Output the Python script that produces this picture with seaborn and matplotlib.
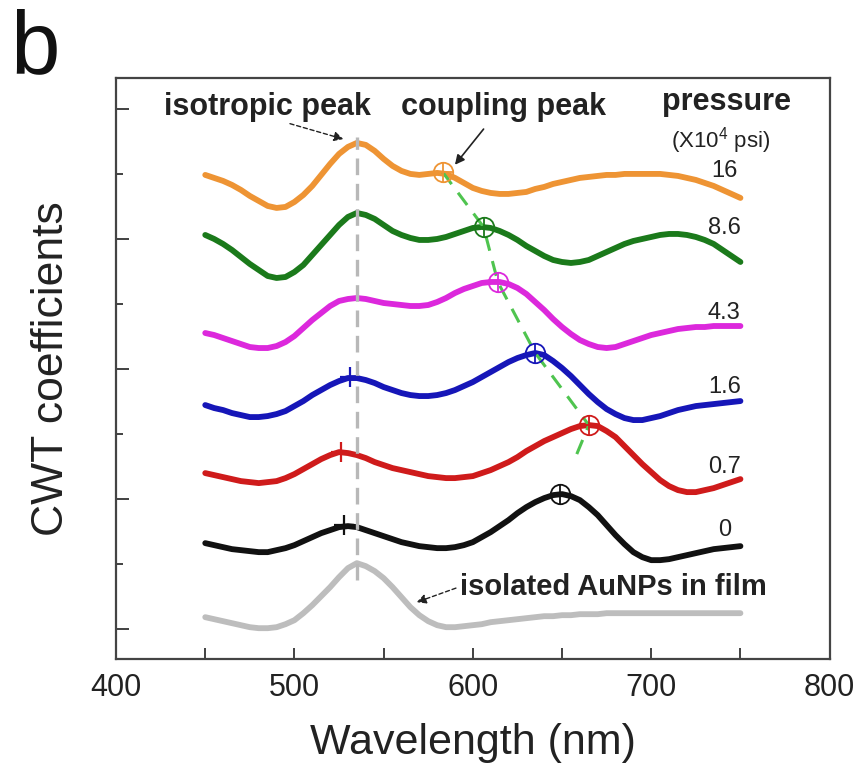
import matplotlib
matplotlib.use("Agg")
import matplotlib.pyplot as plt
import pandas as pd
import seaborn as sns
from matplotlib.ticker import MultipleLocator

# Wavelength grid (nm) shared by every spectrum
wavelength = list(range(450, 751, 5))

# CWT coefficient spectra, each already stacked with its own vertical offset
cwt_p16 = [454, 451, 448, 444, 439, 433, 428, 423, 421, 422,
           427, 434, 443, 454, 465, 475, 482, 486, 484, 478,
           470, 463, 458, 455, 454, 455, 456, 455, 451, 446,
           441, 438, 436, 435, 435, 436, 437, 440, 442, 445,
           447, 449, 451, 452, 453, 454, 454, 455, 455, 455,
           455, 455, 454, 453, 451, 449, 446, 443, 439, 435,
           431]
cwt_p8_6 = [394, 390, 385, 379, 372, 365, 359, 353, 351, 352,
            357, 364, 374, 384, 394, 404, 412, 416, 414, 410,
            404, 398, 394, 391, 389, 389, 390, 392, 395, 398,
            401, 402, 401, 398, 394, 389, 383, 378, 373, 369,
            367, 366, 367, 369, 373, 377, 381, 385, 388, 390,
            392, 394, 395, 395, 394, 392, 389, 385, 379, 373,
            367]
cwt_p4_3 = [296, 294, 291, 288, 285, 282, 281, 281, 283, 287,
            293, 301, 309, 316, 323, 328, 330, 331, 330, 328,
            326, 325, 324, 323, 323, 324, 327, 331, 336, 340,
            343, 346, 347, 347, 345, 341, 335, 327, 319, 310,
            302, 295, 289, 285, 282, 281, 282, 285, 288, 291,
            294, 296, 298, 300, 301, 302, 302, 303, 303, 303,
            303]
cwt_p1_6 = [224, 221, 219, 216, 214, 212, 212, 213, 215, 218,
            223, 228, 234, 239, 244, 248, 251, 251, 249, 246,
            242, 239, 236, 234, 233, 233, 234, 236, 239, 243,
            247, 252, 257, 262, 267, 271, 274, 276, 274, 268,
            261, 253, 244, 235, 227, 220, 215, 211, 209, 209,
            211, 213, 216, 219, 221, 223, 224, 225, 226, 227,
            228]
cwt_p0_7 = [156, 154, 152, 150, 148, 147, 146, 147, 148, 151,
            155, 160, 165, 170, 174, 177, 176, 174, 171, 167,
            164, 161, 159, 157, 155, 153, 152, 151, 151, 152,
            153, 156, 159, 163, 167, 172, 178, 183, 188, 192,
            196, 200, 203, 204, 203, 198, 192, 183, 174, 165,
            157, 149, 143, 139, 137, 137, 139, 141, 144, 147,
            150]
cwt_p0 = [86, 84, 82, 80, 79, 78, 77, 77, 79, 81,
          84, 88, 92, 96, 99, 102, 103, 102, 99, 96,
          93, 90, 87, 85, 83, 82, 81, 81, 82, 84,
          87, 92, 97, 103, 109, 116, 122, 127, 131, 134,
          135, 133, 129, 122, 114, 104, 94, 85, 77, 72,
          69, 69, 70, 72, 74, 76, 78, 80, 81, 82,
          83]
cwt_film = [12, 10, 8, 6, 4, 2, 1, 1, 2, 5,
            9, 16, 24, 33, 42, 52, 61, 66, 63, 58,
            51, 42, 32, 22, 14, 8, 4, 2, 2, 3,
            4, 5, 7, 8, 9, 10, 11, 12, 13, 13,
            14, 14, 15, 15, 15, 16, 16, 16, 16, 16,
            16, 16, 16, 16, 16, 16, 16, 16, 16, 16,
            16]

series_names = ["16", "8.6", "4.3", "1.6", "0.7", "0", "film"]
series_values = [cwt_p16, cwt_p8_6, cwt_p4_3, cwt_p1_6, cwt_p0_7, cwt_p0, cwt_film]
series_colors = ["#EE9434", "#1B7A1B", "#DC28DC", "#1616B8", "#CF1B1B", "#111111", "#BDBDBD"]

# Coupling-peak positions (pressure order 16 ... 0)
coupling_wl = [583, 606, 614, 635, 665, 649]
coupling_val = [457, 402, 347, 276, 204, 135]

# Isotropic-peak crosses on the 1.6, 0.7 and 0 spectra
iso_names = ["1.6", "0.7", "0"]
iso_wl = [531, 526, 528]
iso_val = [252, 177, 104]

isotropic_center = 535

pressure_labels = ["16", "8.6", "4.3", "1.6", "0.7", "0"]
label_val = [458, 401, 316, 242, 162, 99]

df = pd.DataFrame({
    "wavelength": wavelength * len(series_names),
    "cwt": sum(series_values, []),
    "series": [n for n in series_names for _ in wavelength],
})
palette = dict(zip(series_names, series_colors))

sns.set_theme(style="ticks")
plt.rcParams["font.family"] = ["Liberation Sans", "DejaVu Sans"]
plt.rcParams["mathtext.fontset"] = "custom"
plt.rcParams["mathtext.rm"] = "Liberation Sans"

fig = plt.figure(figsize=(8.66, 7.71), dpi=100)
ax = fig.add_axes([0.134, 0.145, 0.824, 0.754])

sns.lineplot(data=df, x="wavelength", y="cwt", hue="series", hue_order=series_names,
             palette=palette, linewidth=4.2, legend=False, ax=ax, zorder=3)
for line in ax.get_lines():
    line.set_solid_joinstyle("round")
    line.set_solid_capstyle("round")

# vertical guide through the isotropic peak
ax.plot([isotropic_center, isotropic_center], [49, 492], color="#B8B8B8", lw=2.4,
        dashes=(5, 2.6), zorder=4)

# guide linking the coupling peaks, fading out halfway to the last one
guide_wl = coupling_wl[:5] + [coupling_wl[4] + 0.5 * (coupling_wl[5] - coupling_wl[4])]
guide_val = coupling_val[:5] + [coupling_val[4] + 0.5 * (coupling_val[5] - coupling_val[4])]
ax.plot(guide_wl, guide_val, color="#4FC44F", lw=2.2, dashes=(5, 3.5), zorder=5)

# circled-plus markers at the coupling peaks
for name, w, v in zip(pressure_labels, coupling_wl, coupling_val):
    c = palette[name]
    ax.plot(w, v, marker="o", ms=14, mfc="none", mec=c, mew=1.3, zorder=6)
    ax.plot(w, v, marker="+", ms=14, mec=c, mew=1.3, zorder=6)

# crosses at the isotropic peaks
for name, w, v in zip(iso_names, iso_wl, iso_val):
    ax.plot(w, v, marker="+", ms=15, mec=palette[name], mew=1.6, zorder=6)

# pressure values at the right end of each spectrum
for lab, v in zip(pressure_labels, label_val):
    ax.text(741, v, lab, ha="center", va="center", fontsize=17, color="#222222")

ax.text(742, 527, "pressure", ha="center", va="center", fontsize=22, fontweight="bold",
        color="#222222")
ax.text(739, 488, r"(X10$^{4}$ psi)", ha="center", va="center", fontsize=16, color="#222222")

ax.text(485, 522, "isotropic peak", ha="center", va="center", fontsize=22,
        fontweight="bold", color="#222222")
ax.text(617, 522, "coupling peak", ha="center", va="center", fontsize=22,
        fontweight="bold", color="#222222")
ax.text(593, 42, "isolated AuNPs in film", ha="left", va="center", fontsize=21,
        fontweight="bold", color="#222222")

ax.annotate("", xy=(529, 489), xytext=(496, 506),
            arrowprops=dict(arrowstyle="-|>", color="#222222", lw=1.0, ls=(0, (3, 2)),
                            mutation_scale=14))
ax.annotate("", xy=(589, 462), xytext=(607, 502),
            arrowprops=dict(arrowstyle="-|>", color="#222222", lw=1.2, mutation_scale=14))
ax.annotate("", xy=(567, 26), xytext=(592, 42),
            arrowprops=dict(arrowstyle="-|>", color="#222222", lw=1.0, ls=(0, (3, 2)),
                            mutation_scale=14))

ax.set_xlim(400, 800)
ax.set_ylim(-30, 551)
ax.xaxis.set_major_locator(MultipleLocator(100))
ax.xaxis.set_minor_locator(MultipleLocator(50))
ax.yaxis.set_major_locator(MultipleLocator(130))
ax.yaxis.set_minor_locator(MultipleLocator(65))
ax.tick_params(axis="both", which="both", direction="in", color="#333333", width=1.3)
ax.tick_params(axis="x", which="major", length=8, labelsize=22, pad=10, labelcolor="#222222")
ax.tick_params(axis="x", which="minor", length=8)
ax.tick_params(axis="y", which="major", length=9, labelleft=False)
ax.tick_params(axis="y", which="minor", length=5)
for side in ["top", "right", "bottom", "left"]:
    ax.spines[side].set_visible(True)
    ax.spines[side].set_color("#444444")
    ax.spines[side].set_linewidth(1.6)

ax.set_xlabel("Wavelength (nm)", fontsize=31, color="#222222", labelpad=14)
ax.set_ylabel("CWT coefficients", fontsize=32, color="#222222", labelpad=28)

fig.text(0.012, 0.99, "b", ha="left", va="top", fontsize=64, color="#111111")

fig.savefig("out.png", dpi=100)
